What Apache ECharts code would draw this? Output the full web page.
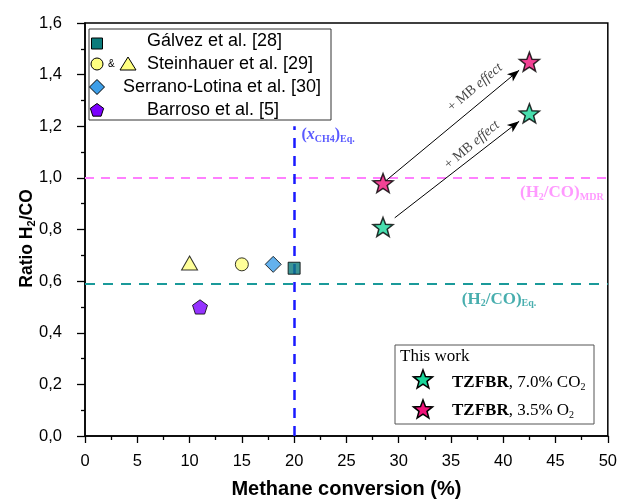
<!DOCTYPE html>
<html><head><meta charset="utf-8">
<script src="https://cdn.jsdelivr.net/npm/echarts@6/dist/echarts.min.js"></script>
<style>html,body{margin:0;padding:0;background:#fff}#c{width:620px;height:504px}</style>
</head><body><div id="c"></div>
<script>
// ---- data ----
const galvez = [[20, 0.65]];
const steinhauerCircle = [[15, 0.665]];
const steinhauerTriangle = [[10, 0.67]];
const serrano = [[18, 0.665]];
const barroso = [[11, 0.50]];
const tzfbrCO2 = [[28.5, 0.81], [42.5, 1.25]];
const tzfbrO2 = [[28.5, 0.98], [42.5, 1.45]];
const h2coMDR = 1.0;
const h2coEq = 0.59;
const xch4Eq = 20;
const xch4EqTop = 1.2;
const xRange = [0, 50, 5];
const yRange = [0, 1.6, 0.2];

const STAR = 'path://M50 0L62.34 33.01L97.55 34.55L69.97 56.49L79.39 90.45L50 71L20.61 90.45L30.03 56.49L2.45 34.55L37.66 33.01Z';
const PENT = 'path://M50 0L97.55 34.55L79.39 90.45L20.61 90.45L2.45 34.55Z';
const SERIF = '"Liberation Serif","DejaVu Serif",serif';
const SANS = '"Liberation Sans",Arial,sans-serif';

function arrow(a, b, f0, f1) {
  const s = [a[0] + (b[0] - a[0]) * f0, a[1] + (b[1] - a[1]) * f0];
  const e = [a[0] + (b[0] - a[0]) * f1, a[1] + (b[1] - a[1]) * f1];
  return [{coord: s, symbol: 'none'}, {coord: e, symbol: 'arrow', symbolSize: [7, 12]}];
}
function starPts(cx, cy, r) {
  const p = [];
  for (let i = 0; i < 10; i++) {
    const ang = -Math.PI / 2 + i * Math.PI / 5;
    const rr = i % 2 ? r * 0.42 : r;
    p.push([cx + rr * Math.cos(ang), cy + rr * Math.sin(ang)]);
  }
  return p;
}
function polyPts(cx, cy, r, n, rot) {
  const p = [];
  for (let i = 0; i < n; i++) {
    const ang = rot + i * 2 * Math.PI / n;
    p.push([cx + r * Math.cos(ang), cy + r * Math.sin(ang)]);
  }
  return p;
}

const chart = echarts.init(document.getElementById('c'));
const dec = v => v.toFixed(1).replace('.', ',');
const mbLabel = pos => ({value: pos, label: {show: true, position: 'inside', rotate: 40, formatter: '+ MB {i|effect}',
  fontFamily: SERIF, fontSize: 14, color: '#111', rich: {i: {fontFamily: SERIF, fontStyle: 'italic', fontSize: 14, color: '#111'}}}});
const option = {
  animation: false,
  grid: {left: 85, right: 11, top: 23, bottom: 67, show: true, borderColor: '#000', borderWidth: 1.5},
  xAxis: {
    type: 'value', min: xRange[0], max: xRange[1], interval: xRange[2],
    name: 'Methane conversion (%)', nameLocation: 'middle', nameGap: 43, nameMoveOverlap: false,
    nameTextStyle: {fontFamily: SANS, fontWeight: 'bold', fontSize: 20, color: '#000'},
    axisLine: {lineStyle: {color: '#000', width: 1.5}},
    axisTick: {show: true, inside: false, length: 7, lineStyle: {color: '#000', width: 1.3}},
    minorTick: {show: true, splitNumber: 2, length: 4, lineStyle: {color: '#000', width: 1.3}},
    splitLine: {show: false},
    axisLabel: {fontFamily: SANS, fontSize: 16.5, color: '#000', margin: 17}
  },
  yAxis: {
    type: 'value', min: yRange[0], max: yRange[1], interval: yRange[2],
    name: 'Ratio H{s|2}/CO', nameLocation: 'middle', nameGap: 48, nameMoveOverlap: false,
    nameTextStyle: {fontFamily: SANS, fontWeight: 'bold', fontSize: 17.5, color: '#000', padding: [0, 18, 0, 0],
      rich: {s: {fontFamily: SANS, fontWeight: 'bold', fontSize: 11, color: '#000', padding: [9, 0, 0, 0]}}},
    axisLine: {lineStyle: {color: '#000', width: 1.5}},
    axisTick: {show: true, inside: false, length: 8, lineStyle: {color: '#000', width: 1.3}},
    minorTick: {show: true, splitNumber: 2, length: 4, lineStyle: {color: '#000', width: 1.3}},
    splitLine: {show: false},
    axisLabel: {fontFamily: SANS, fontSize: 16.5, color: '#000', margin: 23, formatter: dec}
  },
  series: [
    {
      type: 'scatter', name: 'lines', data: [], silent: true, z: 1,
      markLine: {
        silent: true, symbol: 'none', animation: false,
        label: {show: false},
        data: [
          [{coord: [xRange[0], h2coMDR], lineStyle: {color: '#ff80ff', type: [9, 7], width: 2}}, {coord: [xRange[1], h2coMDR]}],
          [{coord: [xRange[0], h2coEq], lineStyle: {color: '#1a9a9a', type: [10, 8], width: 2.2}}, {coord: [xRange[1], h2coEq]}],
          [{coord: [xch4Eq, 0], lineStyle: {color: '#1a1aff', type: [10, 8], width: 2.5}}, {coord: [xch4Eq, xch4EqTop]}]
        ]
      }
    },
    {
      type: 'scatter', name: 'arrows', data: [], silent: true, z: 2,
      markLine: {
        silent: true, animation: false, label: {show: false},
        lineStyle: {color: '#000', type: 'solid', width: 1},
        data: [
          arrow(tzfbrO2[0], tzfbrO2[1], 0.02, 0.93),
          arrow(tzfbrCO2[0], tzfbrCO2[1], 0.08, 0.93)
        ]
      }
    },
    {
      type: 'scatter', name: 'annot', z: 3, silent: true, symbolSize: 0,
      data: [
        mbLabel([37.3, 1.35]),
        mbLabel([37.0, 1.128]),
        {value: [49.6, 0.943], label: {show: true, position: 'inside', align: 'right', formatter: '(H{s|2}/CO){s|MDR}',
          fontFamily: SERIF, fontWeight: 'bold', fontSize: 17, color: '#ff80ff',
          rich: {s: {fontFamily: SERIF, fontWeight: 'bold', fontSize: 10, color: '#ff80ff', padding: [9, 0, 0, 0]}}}},
        {value: [39.6, 0.53], label: {show: true, position: 'inside', formatter: '(H{s|2}/CO){s|Eq.}',
          fontFamily: SERIF, fontWeight: 'bold', fontSize: 17, color: '#1a9a9a',
          rich: {s: {fontFamily: SERIF, fontWeight: 'bold', fontSize: 10, color: '#1a9a9a', padding: [9, 0, 0, 0]}}}},
        {value: [20.7, 1.167], label: {show: true, position: 'inside', align: 'left', formatter: '({x|x}{s|CH4}){s|Eq.}',
          fontFamily: SERIF, fontWeight: 'bold', fontSize: 16, color: '#3030ff',
          rich: {x: {fontFamily: SERIF, fontWeight: 'bold', fontStyle: 'italic', fontSize: 16, color: '#3030ff'},
                 s: {fontFamily: SERIF, fontWeight: 'bold', fontSize: 10, color: '#3030ff', padding: [9, 0, 0, 0]}}}}
      ]
    },
    {type: 'scatter', name: 'Gálvez et al. [28]', data: galvez, symbol: 'rect', symbolSize: 12, z: 5,
      itemStyle: {color: '#0b7b7b', borderColor: '#000', borderWidth: 1}},
    {type: 'scatter', name: 'Steinhauer circle', data: steinhauerCircle, symbol: 'circle', symbolSize: 13, z: 5,
      itemStyle: {color: '#ffff80', borderColor: '#000', borderWidth: 1}},
    {type: 'scatter', name: 'Steinhauer triangle', data: steinhauerTriangle, symbol: 'triangle', symbolSize: [16, 14], z: 5,
      itemStyle: {color: '#ffff80', borderColor: '#000', borderWidth: 1}},
    {type: 'scatter', name: 'Serrano-Lotina et al. [30]', data: serrano, symbol: 'diamond', symbolSize: [16, 16], z: 5,
      itemStyle: {color: '#3d9ee8', borderColor: '#000', borderWidth: 1}},
    {type: 'scatter', name: 'Barroso et al. [5]', data: barroso, symbol: PENT, symbolSize: 15, symbolKeepAspect: true, z: 5,
      itemStyle: {color: '#7b00ff', borderColor: '#000', borderWidth: 1}},
    {type: 'scatter', name: 'TZFBR CO2', data: tzfbrCO2, symbol: STAR, symbolSize: 20, symbolKeepAspect: true, z: 6,
      itemStyle: {color: '#1ad69a', borderColor: '#000', borderWidth: 1.5}},
    {type: 'scatter', name: 'TZFBR O2', data: tzfbrO2, symbol: STAR, symbolSize: 20, symbolKeepAspect: true, z: 6,
      itemStyle: {color: '#f0137a', borderColor: '#000', borderWidth: 1.5}}
  ],
  graphic: [
    // legend box 1
    {type: 'rect', z: 100, shape: {x: 89, y: 29, width: 242, height: 91}, style: {fill: '#fff', stroke: '#333', lineWidth: 1}},
    {type: 'rect', z: 101, shape: {x: 91.5, y: 38, width: 11, height: 11}, style: {fill: '#0b7b7b', stroke: '#000', lineWidth: 1}},
    {type: 'circle', z: 101, shape: {cx: 97, cy: 64, r: 6}, style: {fill: '#ffff80', stroke: '#000', lineWidth: 1}},
    {type: 'text', z: 101, style: {x: 108, y: 64, text: '&', font: '10px ' + SANS, fill: '#000', verticalAlign: 'middle'}},
    {type: 'polygon', z: 101, shape: {points: [[128, 57], [136, 70], [120, 70]]}, style: {fill: '#ffff80', stroke: '#000', lineWidth: 1}},
    {type: 'polygon', z: 101, shape: {points: polyPts(97, 87, 7.5, 4, 0)}, style: {fill: '#3d9ee8', stroke: '#000', lineWidth: 1}},
    {type: 'polygon', z: 101, shape: {points: polyPts(97, 110.5, 7, 5, -Math.PI / 2)}, style: {fill: '#7b00ff', stroke: '#000', lineWidth: 1}},
    {type: 'text', z: 101, style: {x: 147, y: 41, text: 'Gálvez et al. [28]', font: '18px ' + SANS, fill: '#000', verticalAlign: 'middle'}},
    {type: 'text', z: 101, style: {x: 147, y: 64, text: 'Steinhauer et al. [29]', font: '18px ' + SANS, fill: '#000', verticalAlign: 'middle'}},
    {type: 'text', z: 101, style: {x: 123, y: 87, text: 'Serrano-Lotina et al. [30]', font: '18px ' + SANS, fill: '#000', verticalAlign: 'middle'}},
    {type: 'text', z: 101, style: {x: 147, y: 110, text: 'Barroso et al. [5]', font: '18px ' + SANS, fill: '#000', verticalAlign: 'middle'}},
    // legend box 2
    {type: 'rect', z: 100, shape: {x: 395, y: 345, width: 199, height: 79}, style: {fill: '#fff', stroke: '#555', lineWidth: 1}},
    {type: 'text', z: 101, style: {x: 400, y: 357, text: 'This work', font: '17px ' + SERIF, fill: '#000', verticalAlign: 'middle'}},
    {type: 'polygon', z: 101, shape: {points: starPts(423, 380, 10)}, style: {fill: '#1ad69a', stroke: '#000', lineWidth: 1.5}},
    {type: 'polygon', z: 101, shape: {points: starPts(423, 410, 10)}, style: {fill: '#f0137a', stroke: '#000', lineWidth: 1.5}},
    {type: 'text', z: 101, style: {x: 452, y: 383, text: '{b|TZFBR}, 7.0% CO{s|2}', font: '17px ' + SERIF, fill: '#000', verticalAlign: 'middle',
      rich: {b: {fontFamily: SERIF, fontWeight: 'bold', fontSize: 17}, s: {fontFamily: SERIF, fontSize: 10, padding: [9, 0, 0, 0]}}}},
    {type: 'text', z: 101, style: {x: 452, y: 411, text: '{b|TZFBR}, 3.5% O{s|2}', font: '17px ' + SERIF, fill: '#000', verticalAlign: 'middle',
      rich: {b: {fontFamily: SERIF, fontWeight: 'bold', fontSize: 17}, s: {fontFamily: SERIF, fontSize: 10, padding: [9, 0, 0, 0]}}}}
  ]
};
chart.setOption(option);
</script>
</body></html>
